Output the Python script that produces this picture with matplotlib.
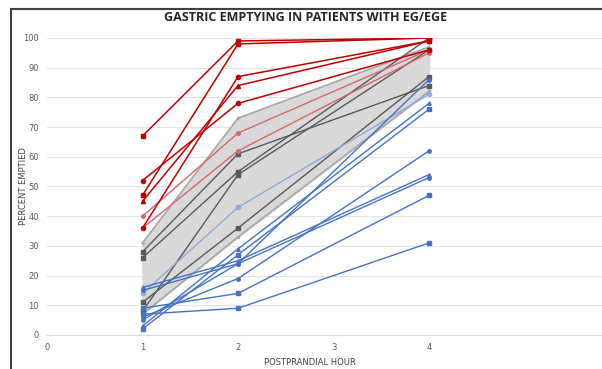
import numpy as np
import matplotlib.pyplot as plt
from matplotlib.patches import Rectangle

hours = [1, 2, 4]

# dark red series
red = [
    [67, 99, 100],
    [47, 98, 100],
    [36, 87, 99],
    [45, 84, 99],
    [52, 78, 96],
]
# light red series
light_red = [
    [40, 68, 96],
    [36, 62, 95],
]
# dark gray series
gray = [
    [28, 61, 84],
    [26, 55, 100],
    [8, 54, 96],
    [11, 36, 87],
]
# shaded band (normal range)
band_upper = [31, 73, 97]
band_lower = [7, 33, 82]
# blue series
blue = [
    [7, 9, 31],
    [9, 14, 47],
    [6, 19, 62],
    [16, 25, 54],
    [15, 24, 53],
    [2, 27, 76],
    [3, 29, 78],
    [5, 24, 86],
]
light_blue = [
    [14, 43, 81],
]

fig = plt.figure(figsize=(6.02, 3.69), dpi=100)
ax = fig.add_axes([47/602, 34/369, 1 - 47/602, 297/369])

ax.fill_between(hours, band_lower, band_upper, color="#d9d9d9", zorder=1)
ax.plot(hours, band_upper, color="#a6a6a6", lw=1.2, marker="+", ms=3, zorder=2)
ax.plot(hours, band_lower, color="#a6a6a6", lw=1.2, marker="s", ms=2, zorder=2)

markers = ["s", "s", "o", "^", "o", "s", "^", "o"]
for s in gray:
    ax.plot(hours, s, color="#595959", lw=1.0, marker="s", ms=3, zorder=3)
for s in light_blue:
    ax.plot(hours, s, color="#8faadc", lw=1.0, marker="o", ms=3, zorder=3)
for i, s in enumerate(blue):
    ax.plot(hours, s, color="#4472c4", lw=1.0, marker=markers[i % len(markers)], ms=2.5, zorder=4)
for s in light_red:
    ax.plot(hours, s, color="#d9646a", lw=1.0, marker="o", ms=2.5, zorder=4)
for i, s in enumerate(red):
    ax.plot(hours, s, color="#c00000", lw=1.1, marker=markers[i % len(markers)], ms=3, zorder=5)

ax.set_xlim(0, (602 - 47) / 95.5)
ax.set_ylim(0, 100)
ax.set_xticks([0, 1, 2, 3, 4])
ax.set_yticks(range(0, 101, 10))
ax.grid(axis="y", color="#e3e3e3", lw=0.8)
ax.set_axisbelow(True)
for sp in ["top", "right", "left"]:
    ax.spines[sp].set_visible(False)
ax.spines["bottom"].set_color("#d9d9d9")
ax.tick_params(length=0, labelsize=6, labelcolor="#595959", pad=6)
ax.set_xlabel("POSTPRANDIAL HOUR", fontsize=6, color="#404040")
ax.xaxis.set_label_coords((310 - 47) / 555, -23 / 297)
ax.set_ylabel("PERCENT EMPTIED", fontsize=6, color="#404040")
ax.yaxis.set_label_coords(-19 / 555, 0.5)

fig.text(0.507, 0.952, "GASTRIC EMPTYING IN PATIENTS WITH EG/EGE", ha="center", va="center",
         fontsize=9, fontweight="bold", color="#262626", family="Open Sans")

fig.patches.append(Rectangle((11/602, -0.1), 1.2, 1.1 - 9/369, transform=fig.transFigure,
                             fill=False, edgecolor="#404040", lw=1.5))

fig.savefig("out.png", dpi=100)
